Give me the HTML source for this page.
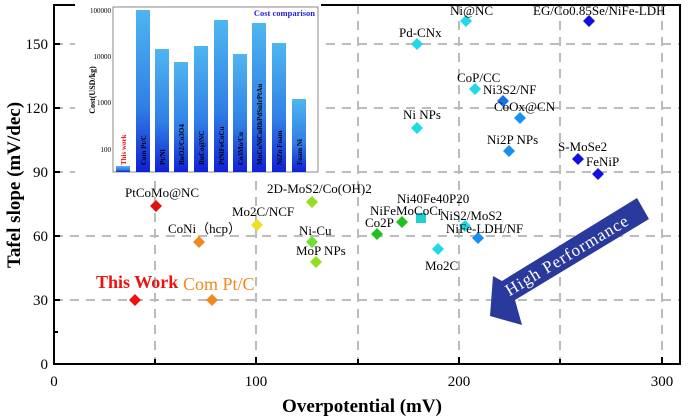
<!DOCTYPE html>
<html><head><meta charset="utf-8"><style>
body{margin:0;background:#fff;}
svg{display:block;font-family:"Liberation Serif",serif;}
</style></head><body>
<svg width="693" height="420" viewBox="0 0 693 420" xmlns="http://www.w3.org/2000/svg">
<defs>
<linearGradient id="bg" x1="0" y1="0" x2="0" y2="1">
<stop offset="0" stop-color="#4fb6f0"/><stop offset="0.6" stop-color="#2f7fe6"/><stop offset="1" stop-color="#1020d8"/>
</linearGradient>
</defs>
<rect width="693" height="420" fill="#fff"/>
<!-- grid -->
<g stroke="#bbb" stroke-width="2" stroke-dasharray="9,7">
<line x1="155" y1="5" x2="155" y2="364"/><line x1="256" y1="5" x2="256" y2="364"/>
<line x1="358" y1="5" x2="358" y2="364"/><line x1="459" y1="5" x2="459" y2="364"/>
<line x1="560" y1="5" x2="560" y2="364"/><line x1="662" y1="5" x2="662" y2="364"/>
<line x1="54" y1="300" x2="680" y2="300"/><line x1="54" y1="236" x2="680" y2="236"/>
<line x1="54" y1="172" x2="680" y2="172"/><line x1="54" y1="108" x2="680" y2="108"/>
<line x1="54" y1="44" x2="680" y2="44"/>
</g>
<!-- axes -->
<rect x="54" y="5" width="626" height="359" fill="none" stroke="#000" stroke-width="2"/>
<g stroke="#000" stroke-width="2">
<line x1="155" y1="364" x2="155" y2="359"/><line x1="256" y1="364" x2="256" y2="357"/><line x1="358" y1="364" x2="358" y2="359"/><line x1="459" y1="364" x2="459" y2="357"/><line x1="560" y1="364" x2="560" y2="359"/><line x1="662" y1="364" x2="662" y2="357"/>
<line x1="54" y1="332" x2="58" y2="332"/><line x1="54" y1="300" x2="60" y2="300"/><line x1="54" y1="236" x2="60" y2="236"/><line x1="54" y1="172" x2="60" y2="172"/><line x1="54" y1="108" x2="60" y2="108"/><line x1="54" y1="44" x2="60" y2="44"/>
</g>
<g font-size="15" fill="#000" text-anchor="middle">
<text x="54" y="386">0</text><text x="256" y="386">100</text><text x="459" y="386">200</text><text x="662" y="386">300</text>
</g>
<g font-size="15" fill="#000" text-anchor="end">
<text x="48" y="369">0</text><text x="48" y="305">30</text><text x="48" y="241">60</text><text x="48" y="177">90</text><text x="48" y="113">120</text><text x="48" y="49">150</text>
</g>
<text x="362" y="412" font-size="19" font-weight="bold" text-anchor="middle">Overpotential (mV)</text>
<text transform="translate(20,185) rotate(-90)" font-size="19" font-weight="bold" text-anchor="middle">Tafel slope (mV/dec)</text>

<!-- arrow -->
<polygon points="637,198 649,219 515,300 522,325 490,316 493,276 502,281" fill="#2a3a9c"/>
<text transform="translate(570,260) rotate(-31)" font-size="17" fill="#fff" text-anchor="middle" letter-spacing="1">High Performance</text>

<!-- points -->
<g font-size="13" fill="#000">
<g transform="translate(135,300)"><path d="M0,-6 6,0 0,6 -6,0Z" fill="#ee1111"/></g>
<g transform="translate(212,300)"><path d="M0,-6 6,0 0,6 -6,0Z" fill="#f08a20"/></g>
<g transform="translate(156,206)"><path d="M0,-6 6,0 0,6 -6,0Z" fill="#e01010"/></g>
<g transform="translate(199,242)"><path d="M0,-6 6,0 0,6 -6,0Z" fill="#f08a20"/></g>
<g transform="translate(257,225)"><path d="M0,-6 6,0 0,6 -6,0Z" fill="#f0e020"/></g>
<g transform="translate(312,202)"><path d="M0,-6 6,0 0,6 -6,0Z" fill="#90e020"/></g>
<g transform="translate(312,242)"><path d="M0,-6 6,0 0,6 -6,0Z" fill="#70e030"/></g>
<g transform="translate(316,262)"><path d="M0,-6 6,0 0,6 -6,0Z" fill="#90e020"/></g>
<g transform="translate(377,234)"><path d="M0,-6 6,0 0,6 -6,0Z" fill="#20c020"/></g>
<g transform="translate(402,222)"><path d="M0,-6 6,0 0,6 -6,0Z" fill="#20c020"/></g>
<rect x="416" y="213" width="10" height="10" fill="#20d0d0"/>
<g transform="translate(438,249)"><path d="M0,-6 6,0 0,6 -6,0Z" fill="#20d8e8"/></g>
<g transform="translate(465,226)"><path d="M0,-6 6,0 0,6 -6,0Z" fill="#20d8e8"/></g>
<g transform="translate(478,238)"><path d="M0,-6 6,0 0,6 -6,0Z" fill="#1890f0"/></g>
<g transform="translate(417,128)"><path d="M0,-6 6,0 0,6 -6,0Z" fill="#20d8e8"/></g>
<g transform="translate(417,44)"><path d="M0,-6 6,0 0,6 -6,0Z" fill="#20d8e8"/></g>
<g transform="translate(466,21)"><path d="M0,-6 6,0 0,6 -6,0Z" fill="#20d8e8"/></g>
<g transform="translate(475,89)"><path d="M0,-6 6,0 0,6 -6,0Z" fill="#20d8e8"/></g>
<g transform="translate(503,101)"><path d="M0,-6 6,0 0,6 -6,0Z" fill="#1870e8"/></g>
<g transform="translate(520,118)"><path d="M0,-6 6,0 0,6 -6,0Z" fill="#1890f0"/></g>
<g transform="translate(509,151)"><path d="M0,-6 6,0 0,6 -6,0Z" fill="#1890f0"/></g>
<g transform="translate(578,159)"><path d="M0,-6 6,0 0,6 -6,0Z" fill="#1010e0"/></g>
<g transform="translate(598,174)"><path d="M0,-6 6,0 0,6 -6,0Z" fill="#1010e0"/></g>
<g transform="translate(589,21)"><path d="M0,-6 6,0 0,6 -6,0Z" fill="#1010e0"/></g>

<text x="96" y="288" font-size="18" font-weight="bold" fill="#ee1111">This Work</text>
<text x="183" y="290" font-size="18" fill="#f08a20">Com Pt/C</text>
<text x="125" y="197">PtCoMo@NC</text>
<text x="168" y="233">CoNi（hcp）</text>
<text x="232" y="216">Mo2C/NCF</text>
<text x="267" y="193">2D-MoS2/Co(OH)2</text>
<text x="299" y="235">Ni-Cu</text>
<text x="296" y="255">MoP NPs</text>
<text x="365" y="227">Co2P</text>
<text x="370" y="215">NiFeMoCoCr</text>
<text x="397" y="203">Ni40Fe40P20</text>
<text x="425" y="270">Mo2C</text>
<text x="440" y="220">NiS2/MoS2</text>
<text x="446" y="233">NiFe-LDH/NF</text>
<text x="403" y="119">Ni NPs</text>
<text x="399" y="37">Pd-CNx</text>
<text x="450" y="15">Ni@NC</text>
<text x="457" y="82">CoP/CC</text>
<text x="483" y="94">Ni3S2/NF</text>
<text x="494" y="111">CoOx@CN</text>
<text x="487" y="144">Ni2P NPs</text>
<text x="558" y="151">S-MoSe2</text>
<text x="586" y="166">FeNiP</text>
<text x="533" y="15">EG/Co0.85Se/NiFe-LDH</text>
</g>

<!-- inset -->
<rect x="75" y="4" width="246" height="171" fill="#fff"/>
<rect x="113" y="7" width="205" height="165" fill="none" stroke="#888" stroke-width="1"/>
<g fill="url(#bg)">
<rect x="116" y="166" width="14" height="6"/>
<rect x="136" y="10" width="14" height="162"/>
<rect x="155" y="49" width="14" height="123"/>
<rect x="174" y="62" width="14" height="110"/>
<rect x="194" y="46" width="14" height="126"/>
<rect x="214" y="20" width="14" height="152"/>
<rect x="233" y="54" width="14" height="118"/>
<rect x="252" y="23" width="14" height="149"/>
<rect x="272" y="43" width="14" height="129"/>
<rect x="292" y="99" width="14" height="73"/>
</g>
<g font-size="7" fill="#000" text-anchor="end">
<text x="111" y="13">100000</text><text x="111" y="59">10000</text><text x="111" y="105">1000</text><text x="111" y="152">100</text>
</g>
<text transform="translate(95,90) rotate(-90)" font-size="8" font-weight="bold" text-anchor="middle">Cost(USD/kg)</text>
<text x="315" y="16" font-size="8.5" font-weight="bold" fill="#2222dd" text-anchor="end">Cost comparison</text>
<g font-size="7" font-weight="bold" fill="#000">
<text transform="translate(126,165) rotate(-90)" fill="#ee1111">This work</text>
<text transform="translate(146,165) rotate(-90)">Com Pt/C</text>
<text transform="translate(165,165) rotate(-90)">Pt/Ni</text>
<text transform="translate(184,165) rotate(-90)">RuO2/Co3O4</text>
<text transform="translate(204,165) rotate(-90)">RuCo@NC</text>
<text transform="translate(224,165) rotate(-90)">PtNiFeCoCu</text>
<text transform="translate(243,165) rotate(-90)">Co3Mo/Cu</text>
<text transform="translate(262,165) rotate(-90)">MnCoNiCuRhPdSnIrPtAu</text>
<text transform="translate(282,165) rotate(-90)">NiZn Foam</text>
<text transform="translate(302,165) rotate(-90)">Foam Ni</text>
</g>
</svg>
</body></html>
